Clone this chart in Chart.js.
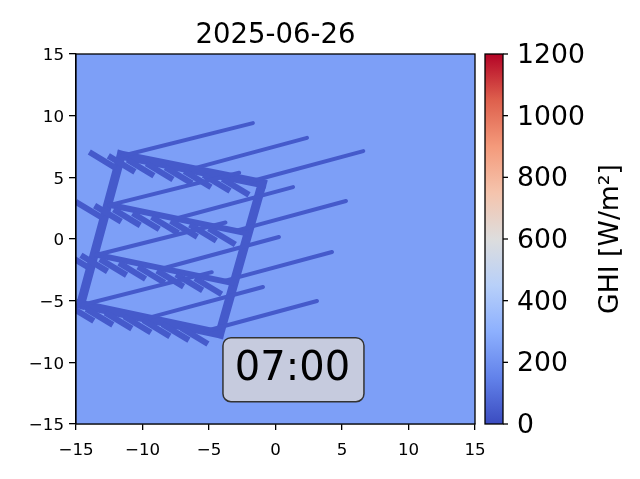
<!DOCTYPE html>
<html>
<head>
<meta charset="utf-8">
<script src="https://cdn.jsdelivr.net/npm/chart.js@4"></script>
<style>
  html, body { margin: 0; padding: 0; background: #fff; }
  #wrap { width: 640px; height: 479px; }
</style>
</head>
<body>
<div id="wrap"><canvas id="grafico"></canvas></div>
<script>
// Dados (metros no chão, GHI em W/m²)
const dayLabel = '2025-06-26';
const timeLabel = '07:00';
const timeLabelAt = [1.35, -10.6];
const axisTicks = [-15, -10, -5, 0, 5, 10, 15];
const ghiTicks = [0, 200, 400, 600, 800, 1000, 1200];
const openGHI = 245;
const shadeGHI = 38;

// sombra da estrutura: segmentos [x1, y1, x2, y2]
const frameEdges = [
    [-11.6, 6.8, -1.0, 4.5],
    [-14.65, -5.3, -4.2, -7.7],
    [-11.6, 6.8, -14.65, -5.3],
    [-1.0, 4.5, -4.2, -7.7]
];
const crossBeams = [
    [-12.6, 2.8, -2.05, 0.45],
    [-13.6, -1.25, -3.1, -3.6]
];
const rails = [
    [-11.5, 6.75, -1.7, 9.4],
    [-6.35, 5.66, 2.37, 8.2],
    [-1.82, 4.68, 6.6, 7.13],
    [-12.5, 2.75, -2.73, 5.37],
    [-7.46, 1.66, 1.32, 4.21],
    [-3.01, 0.66, 5.3, 3.08],
    [-13.5, -1.3, -3.76, 1.34],
    [-8.5, -2.39, 0.26, 0.16],
    [-3.9, -3.42, 4.25, -1.05],
    [-14.55, -5.35, -4.79, -2.69],
    [-9.7, -6.44, -0.94, -3.89],
    [-5.24, -7.46, 3.12, -5.03]
];
const slats = [
    [-14.0, 7.05, -12.0, 5.75], [-12.57, 6.74, -10.57, 5.44], [-11.14, 6.43, -9.14, 5.13], [-9.71, 6.12, -7.71, 4.82],
    [-8.28, 5.81, -6.28, 4.51], [-6.85, 5.5, -4.85, 4.2], [-5.42, 5.19, -3.42, 3.89], [-3.99, 4.88, -1.99, 3.58],
    [-15.03, 3.02, -13.03, 1.72], [-13.6, 2.71, -11.6, 1.41], [-12.17, 2.4, -10.17, 1.1], [-10.74, 2.09, -8.74, 0.79],
    [-9.31, 1.78, -7.31, 0.48], [-7.88, 1.47, -5.88, 0.17], [-6.45, 1.16, -4.45, -0.14], [-5.02, 0.85, -3.02, -0.45],
    [-16.06, -1.01, -14.06, -2.31], [-14.63, -1.32, -12.63, -2.62], [-13.2, -1.63, -11.2, -2.93], [-11.77, -1.94, -9.77, -3.24],
    [-10.34, -2.25, -8.34, -3.55], [-8.91, -2.56, -6.91, -3.86], [-7.48, -2.87, -5.48, -4.17], [-6.05, -3.18, -4.05, -4.48],
    [-17.09, -5.04, -15.09, -6.34], [-15.66, -5.35, -13.66, -6.65], [-14.23, -5.66, -12.23, -6.96], [-12.8, -5.97, -10.8, -7.27],
    [-11.37, -6.28, -9.37, -7.58], [-9.94, -6.59, -7.94, -7.89], [-8.51, -6.9, -6.51, -8.2], [-7.08, -7.21, -5.08, -8.51]
];

// mapa de cores coolwarm
const coolwarm = [
    [0.0, [59, 76, 192]], [0.125, [98, 130, 234]], [0.25, [141, 176, 254]],
    [0.375, [184, 208, 249]], [0.5, [221, 221, 221]], [0.625, [245, 196, 173]],
    [0.75, [244, 154, 123]], [0.875, [222, 96, 77]], [1.0, [180, 4, 38]]
];

function ghiColor(v) {
    const t = Math.max(0, Math.min(1, v / ghiTicks[ghiTicks.length - 1]));
    for (let i = 1; i < coolwarm.length; i++) {
        const [p1, c1] = coolwarm[i];
        const [p0, c0] = coolwarm[i - 1];
        if (t <= p1) {
            const f = (t - p0) / (p1 - p0);
            const c = c0.map((a, k) => Math.round(a + (c1[k] - a) * f));
            return 'rgb(' + c.join(',') + ')';
        }
    }
    return 'rgb(' + coolwarm[coolwarm.length - 1][1].join(',') + ')';
}

function segmentos(list) {
    const pts = [];
    list.forEach(s => {
        pts.push({ x: s[0], y: s[1] }, { x: s[2], y: s[3] }, { x: s[2], y: null });
    });
    return pts;
}

function sombra(list, width, cap) {
    return {
        data: segmentos(list),
        showLine: true,
        borderColor: ghiColor(shadeGHI),
        borderWidth: width,
        borderCapStyle: cap,
        pointRadius: 0,
        spanGaps: false,
        clip: 0
    };
}

const FONT = 'DejaVu Sans';
const menos = v => String(v).replace('-', '\u2212');

const decor = {
    id: 'decor',
    beforeDatasetsDraw(chart) {
        const { ctx, chartArea: a } = chart;
        ctx.save();
        ctx.fillStyle = ghiColor(openGHI);
        ctx.fillRect(a.left, a.top, a.right - a.left, a.bottom - a.top);
        ctx.restore();
    },
    afterDraw(chart) {
        const { ctx, chartArea: a, scales } = chart;
        const cb = scales.cb;
        ctx.save();
        ctx.strokeStyle = '#000';
        ctx.lineWidth = 1.3;
        ctx.strokeRect(a.left, a.top, a.right - a.left, a.bottom - a.top);

        // título
        ctx.fillStyle = '#000';
        ctx.font = '27.5px "' + FONT + '"';
        ctx.textAlign = 'center';
        ctx.textBaseline = 'alphabetic';
        ctx.fillText(dayLabel, (a.left + a.right) / 2, a.top - 11);

        // barra de cores
        const x0 = a.right + 10, w = 18;
        const yTop = cb.getPixelForValue(ghiTicks[ghiTicks.length - 1]);
        const yBot = cb.getPixelForValue(ghiTicks[0]);
        const g = ctx.createLinearGradient(0, yBot, 0, yTop);
        coolwarm.forEach(([p, c]) => g.addColorStop(p, 'rgb(' + c.join(',') + ')'));
        ctx.fillStyle = g;
        ctx.fillRect(x0, yTop, w, yBot - yTop);
        ctx.strokeRect(x0, yTop, w, yBot - yTop);
        ghiTicks.forEach(v => {
            const y = cb.getPixelForValue(v);
            ctx.beginPath();
            ctx.moveTo(x0 + w, y);
            ctx.lineTo(x0 + w + 5, y);
            ctx.stroke();
        });
        ctx.fillStyle = '#000';
        ctx.save();
        ctx.translate(611, (yTop + yBot) / 2);
        ctx.rotate(-Math.PI / 2);
        ctx.textAlign = 'center';
        ctx.textBaseline = 'middle';
        ctx.font = '26.67px "' + FONT + '"';
        ctx.fillText('GHI [W/m²]', 0, 0);
        ctx.restore();

        // caixa da hora
        const cx = scales.x.getPixelForValue(timeLabelAt[0]);
        const cy = scales.y.getPixelForValue(timeLabelAt[1]);
        const bw = 141, bh = 64, r = 8;
        ctx.beginPath();
        ctx.roundRect(cx - bw / 2, cy - bh / 2, bw, bh, r);
        ctx.fillStyle = 'rgb(198,203,222)';
        ctx.fill();
        ctx.strokeStyle = '#333';
        ctx.lineWidth = 1.5;
        ctx.stroke();
        ctx.fillStyle = '#000';
        ctx.font = '40px "' + FONT + '"';
        ctx.textAlign = 'center';
        ctx.textBaseline = 'alphabetic';
        ctx.fillText(timeLabel, cx - 1, cy + 10);
        ctx.restore();
    }
};

const eixo = (pos) => ({
    type: 'linear',
    position: pos,
    min: axisTicks[0],
    max: axisTicks[axisTicks.length - 1],
    afterBuildTicks: s => { s.ticks = axisTicks.map(v => ({ value: v })); },
    grid: { drawOnChartArea: false, drawTicks: true, tickLength: pos === 'left' ? 7 : 6, color: '#000', lineWidth: 1.3 },
    border: { display: true, color: '#000', width: 1.3 },
    ticks: {
        color: '#000', font: { family: FONT, size: 16.67 },
        padding: pos === 'left' ? 5 : 11, labelOffset: pos === 'left' ? 2 : 0,
        callback: menos, maxRotation: 0
    }
});

window.onload = function() {
    const ctx = document.getElementById('grafico').getContext('2d');
    const xAxis = eixo('bottom');
    xAxis.afterFit = s => { s.height = 55; s.paddingLeft = 0; s.paddingRight = 0; };
    const yAxis = eixo('left');
    yAxis.afterFit = s => { s.width = 76; s.paddingTop = 0; s.paddingBottom = 0; };
    new Chart(ctx, {
        type: 'scatter',
        data: {
            datasets: [
                sombra(rails, 4, 'round'),
                sombra(slats, 6, 'butt'),
                sombra(crossBeams, 6, 'butt'),
                sombra(frameEdges, 9, 'square')
            ]
        },
        options: {
            responsive: true,
            maintainAspectRatio: false,
            animation: false,
            layout: { padding: { top: 54, left: 0, right: 0, bottom: 0 } },
            plugins: { legend: { display: false }, tooltip: { enabled: false } },
            scales: {
                x: xAxis,
                y: yAxis,
                cb: {
                    type: 'linear',
                    position: 'right',
                    min: ghiTicks[0],
                    max: ghiTicks[ghiTicks.length - 1],
                    afterBuildTicks: s => { s.ticks = ghiTicks.map(v => ({ value: v })); },
                    afterFit: s => { s.width = 165; s.paddingTop = 0; s.paddingBottom = 0; },
                    grid: { display: false, drawTicks: false },
                    border: { display: false },
                    ticks: { color: '#000', font: { family: FONT, size: 26.67 }, padding: 42, labelOffset: 2, callback: v => String(v) }
                }
            }
        },
        plugins: [decor]
    });
};
</script>
</body>
</html>
